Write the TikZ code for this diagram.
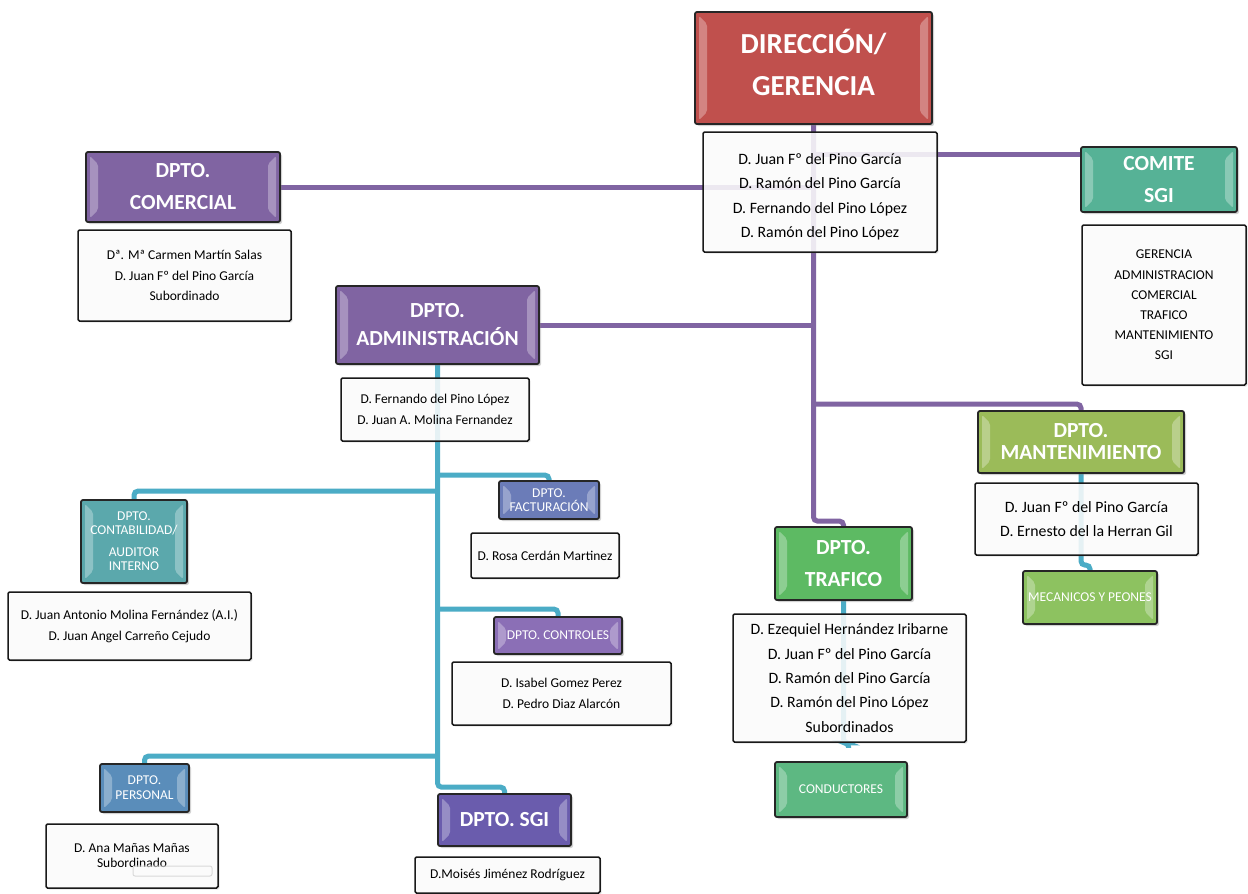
\documentclass[tikz,border=0pt]{standalone}
\usepackage{fontspec}
\setmainfont{Carlito}
\usetikzlibrary{shadows,backgrounds}

\definecolor{gerred}{HTML}{C0504D}
\definecolor{deptviolet}{HTML}{8064A2}
\definecolor{comitegreen}{HTML}{56B296}
\definecolor{factblue}{HTML}{6B7CB8}
\definecolor{ctrlviolet}{HTML}{8B6FB6}
\definecolor{contteal}{HTML}{5BA8AC}
\definecolor{persblue}{HTML}{5A8DBA}
\definecolor{sgiviolet}{HTML}{6A5CAD}
\definecolor{trafgreen}{HTML}{5DBA63}
\definecolor{condgreen}{HTML}{5DB882}
\definecolor{mantolive}{HTML}{9BBB59}
\definecolor{mecgreen}{HTML}{8DC260}
\definecolor{lineviolet}{HTML}{8064A2}
\definecolor{linecyan}{HTML}{4BACC6}

\tikzset{
  bevel/.style={path picture={
    \foreach \s/\a/\b in {1/north west/south west,-1/north east/south east}{
      \fill[white,opacity=0.3]
        ([xshift=\s*4pt,yshift=-4pt]path picture bounding box.\a) --
        ([xshift=\s*12pt,yshift=-12pt]path picture bounding box.\a) --
        ([xshift=\s*12pt,yshift=12pt]path picture bounding box.\b) --
        ([xshift=\s*4pt,yshift=4pt]path picture bounding box.\b) -- cycle;
    }}},
}

\begin{document}
\begin{tikzpicture}[x=1pt,y=-1pt,
    head/.style={draw=black!85,line width=1.8pt,rounded corners=2pt,text=white,align=center,
      inner sep=0pt,drop shadow={opacity=0.35,shadow xshift=2pt,shadow yshift=-2pt},bevel},
    bighead/.style={head,font=\fontsize{21.5}{32}\selectfont\bfseries},
    smallhead/.style={head,font=\fontsize{13.5}{14.5}\selectfont},
    names/.style={draw=black!90,line width=1.5pt,rounded corners=1.5pt,fill=white,fill opacity=0.85,
      text opacity=1,align=center,inner sep=0pt,font=\fontsize{13.5}{20.5}\selectfont,
      drop shadow={opacity=0.2,shadow xshift=1.5pt,shadow yshift=-1.5pt}},
    bignames/.style={names,font=\fontsize{15.8}{24.5}\selectfont},
    violine/.style={draw=lineviolet,line width=5pt,rounded corners=4pt},
    cyanline/.style={draw=linecyan,line width=5pt,rounded corners=4pt}]
\useasboundingbox (0,0) rectangle (1248,894);

\node[bighead,fill=gerred,minimum width=237pt,minimum height=112pt,text depth=12pt,
  font=\fontsize{29}{42}\selectfont\bfseries] (dir) at (813.5,68) {DIRECCIÓN/\\GERENCIA};
\node[bignames,minimum width=234pt,minimum height=120pt] (dirn) at (820,192)
  {\rule{0pt}{21pt}D. Juan Fº del Pino García\\D. Ramón del Pino García\\D. Fernando del Pino López\\D. Ramón del Pino López};

\node[bighead,fill=deptviolet,minimum width=194pt,minimum height=70pt] (com) at (183,187) {DPTO.\\COMERCIAL};
\node[names,minimum width=213pt,minimum height=91pt] (comn) at (184.5,275.5)
  {Dª. Mª Carmen Martín Salas\\D. Juan Fº del Pino García\\Subordinado};

\node[bighead,fill=comitegreen,minimum width=156pt,minimum height=65pt] (comite) at (1159,179.5) {COMITE\\SGI};
\node[names,minimum width=164pt,minimum height=160pt,font=\fontsize{13.5}{20.2}\selectfont] (comiten) at (1164,305)
  {GERENCIA\\ADMINISTRACION\\COMERCIAL\\TRAFICO\\MANTENIMIENTO\\SGI};

\node[bighead,fill=deptviolet,minimum width=203pt,minimum height=78pt,
  font=\fontsize{21.5}{28}\selectfont\bfseries] (adm) at (437.5,325) {DPTO.\\ADMINISTRACIÓN};
\node[names,minimum width=188pt,minimum height=63pt,font=\fontsize{13.5}{21}\selectfont] (admn) at (435,409.5)
  {D. Fernando del Pino López\\D. Juan A. Molina Fernandez};

\node[smallhead,fill=factblue,minimum width=100pt,minimum height=38pt] (fac) at (549,500) {DPTO.\\FACTURACIÓN};
\node[names,minimum width=148pt,minimum height=45pt] (facn) at (545,555.5) {D. Rosa Cerdán Martinez};

\node[smallhead,fill=ctrlviolet,minimum width=128pt,minimum height=37pt] (con) at (558,635.5) {DPTO. CONTROLES};
\node[names,minimum width=219pt,minimum height=63pt] (conn) at (561.5,693.5) {D. Isabel Gomez Perez\\D. Pedro Diaz Alarcón};

\node[smallhead,fill=contteal,minimum width=106pt,minimum height=83pt,font=\fontsize{13.5}{14}\selectfont] (cont) at (134,541.5)
  {DPTO.\\CONTABILIDAD/\\[8pt]AUDITOR\\INTERNO};
\node[names,minimum width=243pt,minimum height=68pt,font=\fontsize{13.5}{21}\selectfont] (contn) at (129.5,626)
  {D. Juan Antonio Molina Fernández (A.I.)\\D. Juan Angel Carreño Cejudo};

\node[smallhead,fill=persblue,minimum width=89pt,minimum height=48pt,font=\fontsize{13.5}{15}\selectfont] (per) at (144.5,788) {DPTO.\\PERSONAL};
\node[names,minimum width=172pt,minimum height=64pt,font=\fontsize{13.5}{15}\selectfont] (pern) at (132,856) {D. Ana Mañas Mañas\\Subordinado};
\draw[black!15,line width=1pt,rounded corners=2pt] (133,866) rectangle (212,876);

\node[bighead,fill=sgiviolet,minimum width=133pt,minimum height=52pt] (sgi) at (504.5,820) {DPTO. SGI};
\node[names,minimum width=185pt,minimum height=36pt] (sgin) at (507.5,875) {D.Moisés Jiménez Rodríguez};

\node[bighead,fill=trafgreen,minimum width=137pt,minimum height=73pt] (tra) at (843.5,563.5) {DPTO.\\TRAFICO};
\node[bignames,minimum width=233pt,minimum height=128pt,font=\fontsize{15.8}{24.3}\selectfont] (tran) at (849.5,678)
  {D. Ezequiel Hernández Iribarne\\D. Juan Fº del Pino García\\D. Ramón del Pino García\\D. Ramón del Pino López\\Subordinados};
\node[smallhead,fill=condgreen,minimum width=132pt,minimum height=55pt] (cond) at (841,789.5) {CONDUCTORES};

\node[bighead,fill=mantolive,minimum width=206pt,minimum height=62pt,
  font=\fontsize{21.5}{22}\selectfont\bfseries] (man) at (1081,442) {DPTO.\\MANTENIMIENTO};
\node[bignames,minimum width=223pt,minimum height=72pt] (mann) at (1086.5,519)
  {D. Juan Fº del Pino García\\D. Ernesto del la Herran Gil};
\node[smallhead,fill=mecgreen,minimum width=134pt,minimum height=53pt] (mec) at (1090,597.5) {MECANICOS Y PEONES};

\coordinate (tra-in) at ([yshift=5pt]tra.north);
\coordinate (comite-in) at ([yshift=25pt]comite.west);
\coordinate (man-in) at ([yshift=6pt]man.north);
\coordinate (sgi-in) at ([yshift=6pt]sgi.north);
\coordinate (cont-in) at ([yshift=8pt]cont.north);
\coordinate (fac-in) at ([yshift=5pt]fac.north);
\coordinate (con-in) at ([yshift=7pt]con.north);
\coordinate (per-in) at ([yshift=7pt]per.north);
\coordinate (tra-out) at ([xshift=5pt,yshift=-142pt]tra.south);
\coordinate (tra-end) at ([xshift=5pt,yshift=-147pt]tra.south);
\coordinate (mec-in) at ([yshift=5pt]mec.north);

\begin{scope}[on background layer]
\fill[white] (0,0) rectangle (1248,894);
% purple lines from the direction
\draw[violine] (dir.south) |- (tra-in) -- (tra.north);
\draw[violine] (com.east) -- (com.east -| dir.south);
\draw[violine] (comite-in -| dir.south) -- (comite-in);
\draw[violine] (adm.east) -- (adm.east -| dir.south);
\draw[violine] (man-in -| dir.south) -- (man-in) -- (man.north);
% cyan lines
\draw[cyanline] (adm.south) |- (sgi-in) -- (sgi.north);
\draw[cyanline] (cont-in -| adm.south) -- (cont-in) -- (cont.north);
\draw[cyanline] (fac-in -| adm.south) -- (fac-in) -- (fac.north);
\draw[cyanline] (con-in -| adm.south) -- (con-in) -- (con.north);
\draw[cyanline] (per-in -| adm.south) -- (per-in) -- (per.north);
\draw[cyanline] (tra.south) |- (tra-out) -- (tra-end);
\draw[cyanline] (man.south) |- (mec-in) -- (mec.north);
\end{scope}
\end{tikzpicture}
\end{document}
